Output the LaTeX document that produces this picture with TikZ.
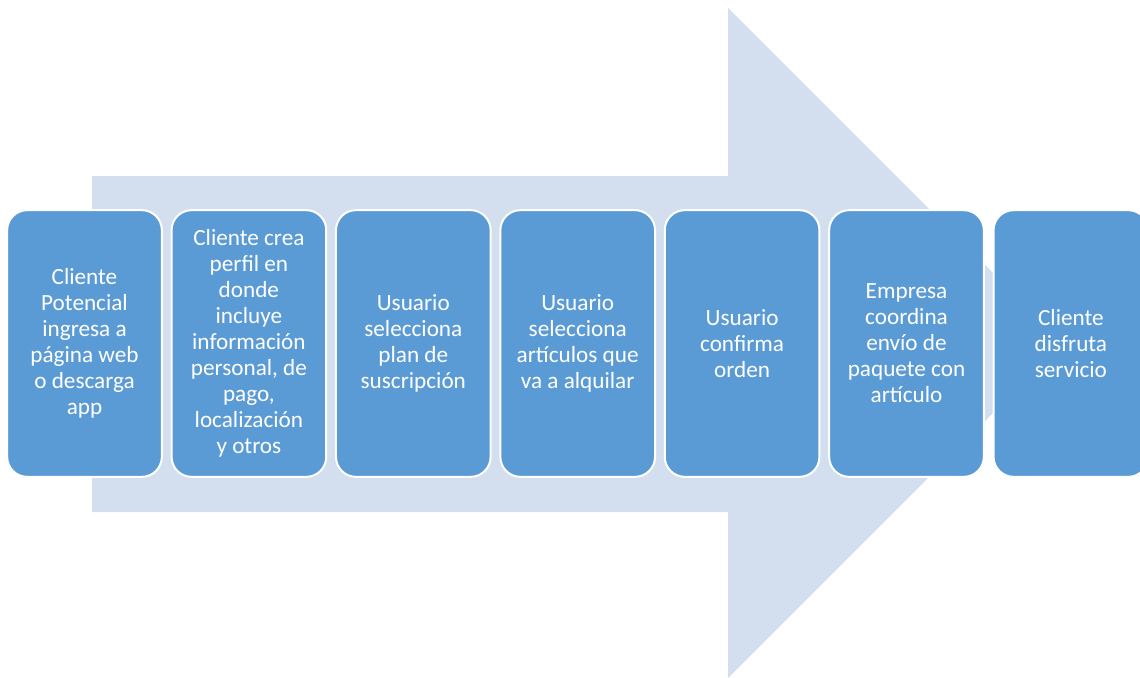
\documentclass[tikz,border=0pt]{standalone}
\usepackage{fontspec}
\setmainfont{Carlito}
\usetikzlibrary{positioning}
\definecolor{cajaazul}{HTML}{5B9BD5}
\definecolor{flechaazul}{HTML}{D3DFEE}
\tikzset{
	etapa/.style = {
		draw = white,
		line width = 1.5pt,
		fill = cajaazul,
		rounded corners = 15pt,
		minimum width = 116pt,
		minimum height = 200pt,
		text = white,
		align = center,
		font = \fontsize{17.4}{19.5}\selectfont,
		inner sep = 0pt
	},
	flecha/.style = {
		fill = flechaazul,
		draw = none
	}
}

\begin{document}
\begin{tikzpicture}[x=0.75pt, y=-0.75pt, node distance=5.8pt]
		\useasboundingbox (0,0) rectangle (1140,678);
		\clip (0,0) rectangle (1140,678);
		% flecha de fondo
		\fill[flecha] (92,176) -- (728,176) -- (728,8) -- (1063,343) -- (728,678) -- (728,512) -- (92,512) -- cycle;
		
		\node[etapa] (ingreso) at (84.5,343.5) {Cliente\\Potencial\\ingresa a\\página web\\o descarga\\app};
		\node[etapa, right=of ingreso] (perfil) {Cliente crea\\perfil en\\donde\\incluye\\información\\personal, de\\pago,\\localización\\y otros};
		\node[etapa, right=of perfil] (plan) {Usuario\\selecciona\\plan de\\suscripción};
		\node[etapa, right=of plan] (articulos) {Usuario\\selecciona\\artículos que\\va a alquilar};
		\node[etapa, right=of articulos] (orden) {Usuario\\confirma\\orden};
		\node[etapa, right=of orden] (envio) {Empresa\\coordina\\envío de\\paquete con\\artículo};
		\node[etapa, right=of envio] (disfruta) {Cliente\\disfruta\\servicio};
	\end{tikzpicture}
\end{document}
